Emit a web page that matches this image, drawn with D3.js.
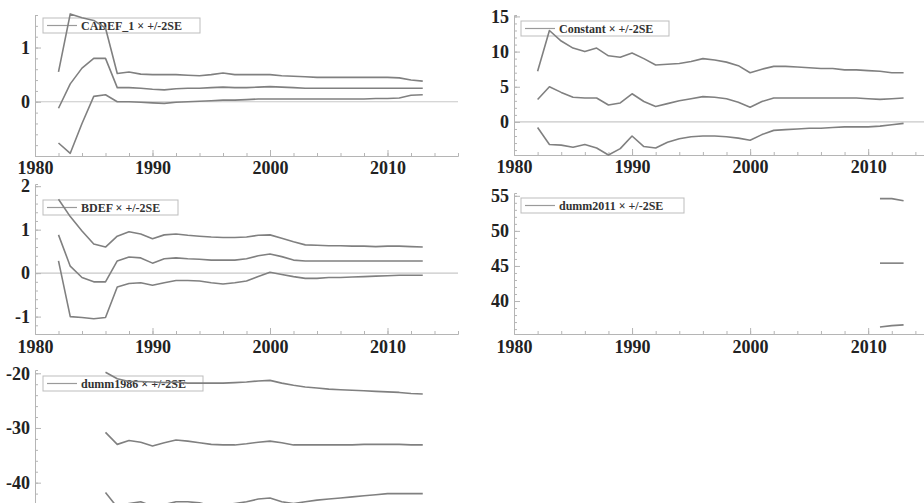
<!DOCTYPE html>
<html>
<head>
<meta charset="utf-8">
<script src="https://cdn.jsdelivr.net/npm/d3@7"></script>
<style>
  body { margin: 0; background: #fff; }
  svg { display: block; }
  .tick text { font-family: "Liberation Serif", "DejaVu Serif", serif; font-weight: bold; font-size: 18px; fill: #222; }
  .legend text { font-family: "Liberation Serif", serif; font-weight: bold; font-size: 12px; fill: #333; }
</style>
</head>
<body>
<svg id="canvas" width="924" height="503"></svg>
<script>
// years for each block of recursive estimates
let years = [1982,1983,1984,1985,1986,1987,1988,1989,1990,1991,1992,1993,1994,1995,1996,1997,
  1998,1999,2000,2001,2002,2003,2004,2005,2006,2007,2008,2009,2010,2011,2012,2013];
let years86 = [1986,1987,1988,1989,1990,1991,1992,1993,1994,1995,1996,1997,1998,1999,
  2000,2001,2002,2003,2004,2005,2006,2007,2008,2009,2010,2011,2012,2013];
let years11 = [2011,2012,2013];

let cadefUp  = [0.55,1.62,1.55,1.5,1.36,0.52,0.55,0.51,0.5,0.5,0.5,0.49,0.48,0.5,0.53,0.5,
  0.5,0.5,0.5,0.48,0.47,0.46,0.45,0.45,0.45,0.45,0.45,0.45,0.45,0.44,0.4,0.38];
let cadefMid = [-0.12,0.33,0.62,0.8,0.8,0.26,0.26,0.25,0.23,0.22,0.24,0.25,0.25,0.26,0.27,0.26,
  0.26,0.27,0.28,0.27,0.26,0.25,0.25,0.25,0.25,0.25,0.25,0.25,0.25,0.25,0.25,0.25];
let cadefLow = [-0.76,-0.95,-0.4,0.1,0.13,0.0,0.0,-0.01,-0.02,-0.03,-0.01,0.0,0.01,0.02,0.03,0.03,
  0.04,0.05,0.05,0.05,0.05,0.05,0.05,0.05,0.05,0.05,0.05,0.06,0.06,0.07,0.12,0.13];

let constUp  = [7.2,13.0,11.5,10.5,10.0,10.5,9.4,9.2,9.8,9.0,8.1,8.2,8.3,8.6,9.0,8.8,
  8.5,8.0,7.0,7.5,7.9,7.9,7.8,7.7,7.6,7.6,7.4,7.4,7.3,7.2,7.0,7.0];
let constMid = [3.2,5.0,4.2,3.5,3.4,3.4,2.4,2.7,4.0,2.9,2.2,2.6,3.0,3.3,3.6,3.5,
  3.3,2.8,2.1,2.9,3.4,3.4,3.4,3.4,3.4,3.4,3.4,3.4,3.3,3.2,3.3,3.4];
let constLow = [-0.8,-3.2,-3.3,-3.6,-3.2,-3.7,-4.7,-3.8,-2.0,-3.5,-3.7,-2.9,-2.4,-2.1,-2.0,-2.0,
  -2.1,-2.3,-2.6,-1.8,-1.2,-1.1,-1.0,-0.9,-0.9,-0.8,-0.7,-0.7,-0.7,-0.6,-0.4,-0.2];

let bdefUp  = [1.7,1.3,0.97,0.67,0.6,0.85,0.95,0.9,0.79,0.88,0.9,0.87,0.85,0.83,0.82,0.82,
  0.83,0.87,0.88,0.8,0.72,0.65,0.64,0.63,0.63,0.62,0.62,0.61,0.62,0.62,0.61,0.6];
let bdefMid = [0.88,0.16,-0.1,-0.2,-0.2,0.28,0.37,0.35,0.23,0.33,0.35,0.33,0.32,0.3,0.3,0.3,
  0.33,0.4,0.44,0.38,0.3,0.28,0.28,0.28,0.28,0.28,0.28,0.28,0.28,0.28,0.28,0.28];
let bdefLow = [0.28,-1.0,-1.02,-1.05,-1.02,-0.32,-0.24,-0.22,-0.28,-0.22,-0.17,-0.17,-0.18,-0.22,-0.25,-0.22,
  -0.18,-0.08,0.02,-0.03,-0.08,-0.12,-0.12,-0.1,-0.1,-0.09,-0.08,-0.07,-0.06,-0.05,-0.05,-0.05];

let d2011Up  = [54.6,54.6,54.3];
let d2011Mid = [45.4,45.4,45.4];
let d2011Low = [36.3,36.5,36.6];

let d1986Up  = [-19.8,-21.0,-21.5,-21.5,-21.6,-21.7,-21.6,-21.8,-21.8,-21.8,-21.8,-21.7,-21.6,-21.4,
  -21.3,-21.8,-22.2,-22.5,-22.7,-22.9,-23.0,-23.1,-23.2,-23.3,-23.4,-23.5,-23.7,-23.8];
let d1986Mid = [-30.8,-33.0,-32.3,-32.6,-33.3,-32.7,-32.2,-32.4,-32.7,-33.0,-33.1,-33.1,-32.9,-32.6,
  -32.4,-32.7,-33.1,-33.1,-33.1,-33.1,-33.1,-33.1,-33.0,-33.0,-33.0,-33.0,-33.1,-33.1];
let d1986Low = [-41.8,-44.5,-43.8,-43.5,-44.3,-44.0,-43.5,-43.5,-43.7,-44.2,-44.2,-43.8,-43.5,-43.0,
  -42.8,-43.5,-43.8,-43.5,-43.2,-43.0,-42.8,-42.6,-42.4,-42.2,-42.0,-42.0,-42.0,-42.0];

let xTicks = [1980,1990,2000,2010];

let panels = [
  {name:'CADEF_1', x:years, up:cadefUp, mid:cadefMid, low:cadefLow, yDom:[-1.0,1.6], yTicks:[0,1], minor:0.2},
  {name:'Constant', x:years, up:constUp, mid:constMid, low:constLow, yDom:[-4.7,15.2], yTicks:[0,5,10,15], minor:1},
  {name:'BDEF', x:years, up:bdefUp, mid:bdefMid, low:bdefLow, yDom:[-1.4,2.05], yTicks:[-1,0,1,2], minor:0.2},
  {name:'dumm2011', x:years11, up:d2011Up, mid:d2011Mid, low:d2011Low, yDom:[35.3,55.4], yTicks:[40,45,50,55], minor:1},
  {name:'dumm1986', x:years86, up:d1986Up, mid:d1986Mid, low:d1986Low, yDom:[-45,-19.4], yTicks:[-40,-30,-20], minor:2}
];

// pixel layout of each panel (last one runs off the bottom of the picture)
let layout = [
  {left:35, right:458, top:15, bottom:156, pad:5, leg:[43,18,157]},
  {left:514, right:939, top:15, bottom:155, pad:5, leg:[521,21,148]},
  {left:35, right:458, top:184, bottom:334, pad:6, leg:[43,200,135]},
  {left:514, right:939, top:193, bottom:334, pad:6, leg:[521,198,163]},
  {left:35, right:458, top:370, bottom:510, pad:null, leg:[43,376,160]}
];

let canvas = d3.select('#canvas');
let lineColor = '#808080';
let axisColor = '#b5b5b5';

panels.forEach((p, i) => {
  let l = layout[i];
  let x = d3.scaleLinear().domain([1980, 2016]).range([l.left, l.right]);
  let y = d3.scaleLinear().domain(p.yDom).range([l.bottom, l.top]);
  let g = canvas.append('g');

  // zero reference line
  if (p.yDom[0] < 0 && p.yDom[1] > 0) {
    g.append('line')
      .attr('x1', l.left).attr('x2', l.right)
      .attr('y1', y(0)).attr('y2', y(0))
      .attr('stroke', '#c8c8c8').attr('stroke-width', 1.2);
  }

  // x axis: major + minor ticks pointing up
  let minorX = [];
  for (let t = 1980; t <= 2016; t += 2) minorX.push(t);
  g.append('g')
    .attr('transform', 'translate(0,' + l.bottom + ')')
    .call(d3.axisBottom(x).tickValues(minorX).tickSize(-3).tickFormat(''))
    .call(a => a.selectAll('line,path').attr('stroke', axisColor));
  if (l.pad !== null) {
    let xa = g.append('g')
      .attr('transform', 'translate(0,' + l.bottom + ')')
      .call(d3.axisBottom(x).tickValues(xTicks).tickSize(-6).tickPadding(l.pad).tickFormat(d => d));
    xa.select('.domain').remove();
    xa.selectAll('line').attr('stroke', axisColor);
  }

  // y axis
  let minorY = [];
  for (let t = Math.ceil(p.yDom[0] / p.minor) * p.minor; t <= p.yDom[1]; t += p.minor) minorY.push(t);
  g.append('g')
    .attr('transform', 'translate(' + l.left + ',0)')
    .call(d3.axisLeft(y).tickValues(minorY).tickSize(-3).tickFormat(''))
    .call(a => a.selectAll('line,path').attr('stroke', axisColor));
  let ya = g.append('g')
    .attr('transform', 'translate(' + l.left + ',0)')
    .call(d3.axisLeft(y).tickValues(p.yTicks).tickSize(-6).tickFormat(d => String(d)));
  ya.select('.domain').remove();
  ya.selectAll('line').attr('stroke', axisColor);
  ya.selectAll('text').attr('x', -5);

  // legend box
  let lg = g.append('g').attr('class', 'legend');
  lg.append('rect')
    .attr('x', l.leg[0]).attr('y', l.leg[1])
    .attr('width', l.leg[2]).attr('height', 15)
    .attr('fill', 'none').attr('stroke', '#bdbdbd').attr('stroke-width', 1);
  lg.append('line')
    .attr('x1', l.leg[0] + 4).attr('x2', l.leg[0] + 34)
    .attr('y1', l.leg[1] + 7.5).attr('y2', l.leg[1] + 7.5)
    .attr('stroke', '#9a9a9a').attr('stroke-width', 1.2);
  lg.append('text')
    .attr('x', l.leg[0] + 38).attr('y', l.leg[1] + 11.5)
    .text(p.name + ' \u00d7 +/-2SE');

  // estimate and +/-2SE bands
  let line = d3.line().x((d, k) => x(p.x[k])).y(d => y(d));
  [p.up, p.mid, p.low].forEach(s => {
    g.append('path')
      .attr('d', line(s))
      .attr('fill', 'none')
      .attr('stroke', lineColor)
      .attr('stroke-width', 1.6)
      .attr('stroke-linejoin', 'round');
  });
});
</script>
</body>
</html>
